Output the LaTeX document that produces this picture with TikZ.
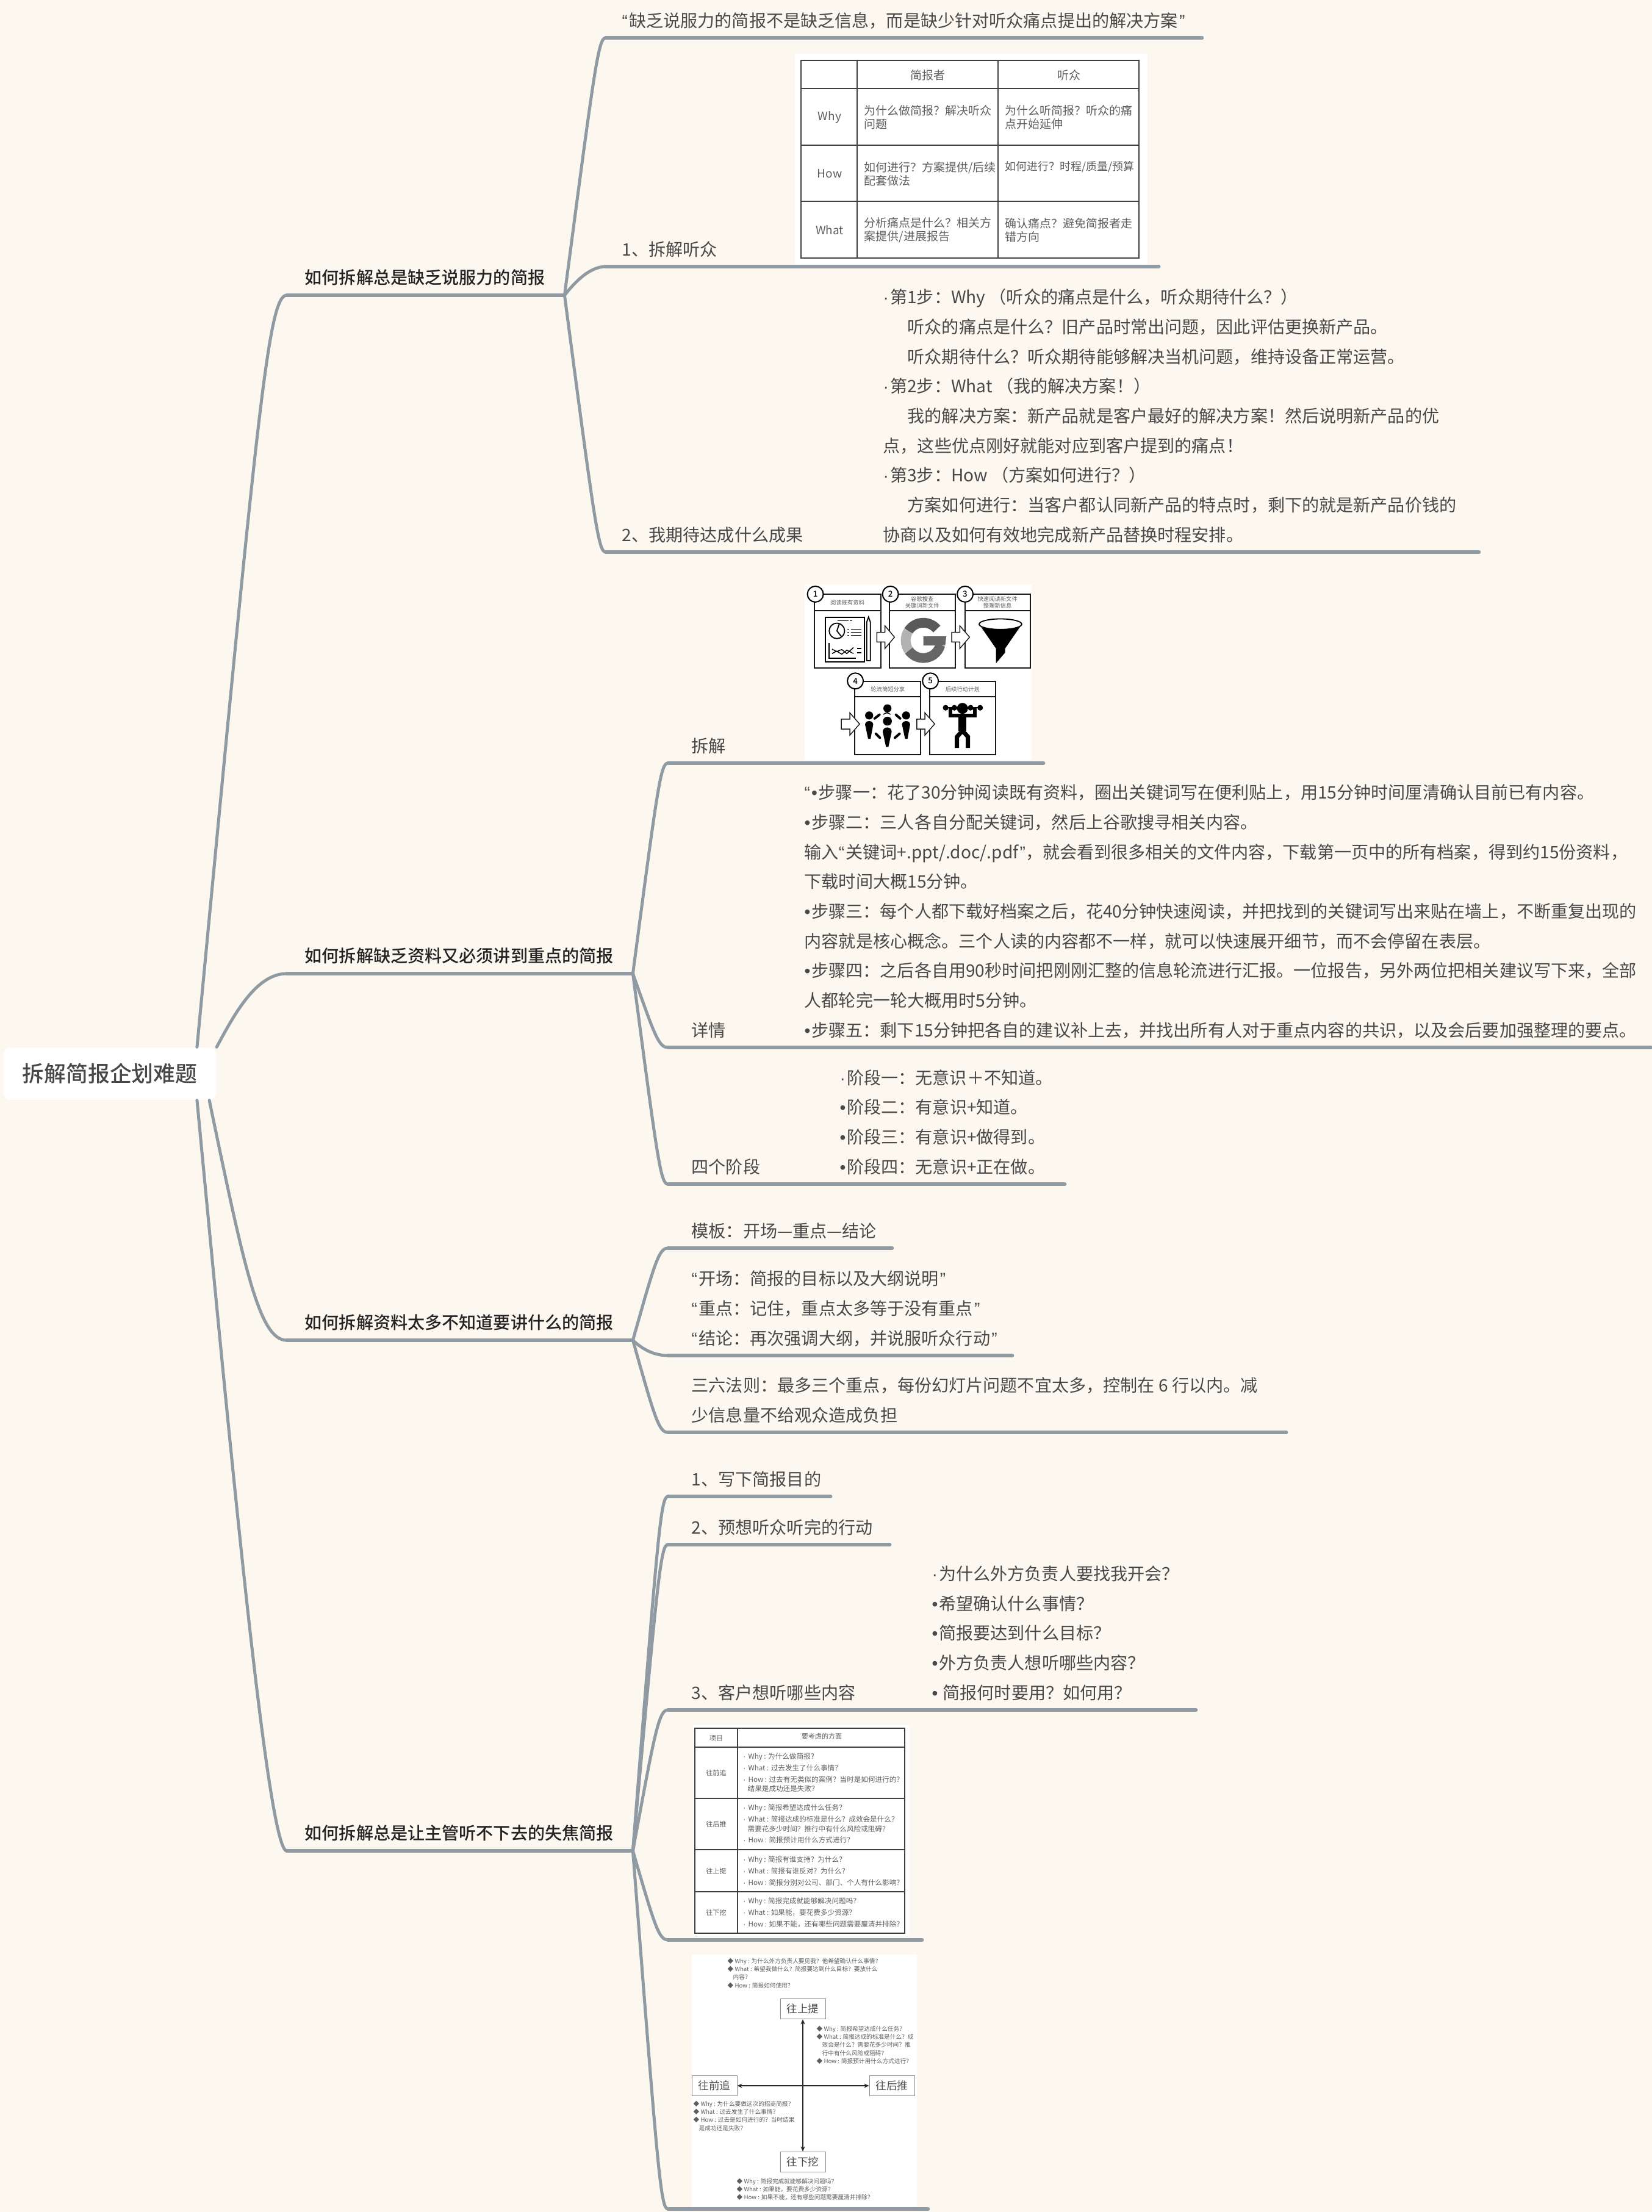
\documentclass[tikz,border=0pt]{standalone}
\usepackage{fontspec}
\setmainfont{Noto Sans CJK SC}[BoldFont={Noto Sans CJK SC Medium}]
\newfontfamily\marksfont{Liberation Sans}
\newcommand\dotb{{\marksfont ·}\kern.6pt}
\newcommand\bul{{\marksfont •}\kern.5pt}
\newcommand\ldq{{\marksfont “}\kern.6pt}
\newcommand\rdq{\kern.6pt{\marksfont ”}}
\usepackage{xcolor}
\definecolor{mapbg}{HTML}{FCF8F0}
\definecolor{mapline}{HTML}{8F9AA3}
\definecolor{mapkw}{HTML}{232323}
\definecolor{maptxt}{HTML}{484848}
\definecolor{picgray}{HTML}{5E5E5E}
\usepackage{tikz}
\usetikzlibrary{arrows.meta,calc}
\tikzset{
  rootnode/.style={fill=white,rounded corners=.12cm,minimum width=3.49cm,minimum height=.86cm,inner sep=0pt,text=maptxt,font=\fontsize{10.2}{12}\selectfont\bfseries},
  mainnode/.style={anchor=south west,inner xsep=.29cm,inner ysep=0pt,text depth=.18cm,align=left,text=mapkw,font=\fontsize{8}{13.85}\selectfont\bfseries},
  subnode/.style={anchor=south west,inner xsep=.38cm,inner ysep=0pt,text depth=.17cm,align=left,text=maptxt,font=\fontsize{8}{13.85}\selectfont},
  txtblock/.style={anchor=south west,inner sep=0pt,text depth=.17cm,align=left,text=maptxt,font=\fontsize{8}{13.85}\selectfont},
  uline/.style={draw=mapline,line width=.06cm,line cap=round},
  link/.style 2 args={draw=mapline,line width=.05cm,line cap=round,to path={.. controls ($(\tikztostart)!#1!($(\tikztotarget)+(-#2,0)$)$) and ($(\tikztotarget)+(-#2,0)$) .. (\tikztotarget)}},
  picbox/.style={fill=white,inner sep=0pt,anchor=north west},
  gridline/.style={draw=black!75,line width=.012cm},
  cella/.style={inner sep=0pt,text=picgray,font=\fontsize{5.4}{6.3}\selectfont},
  cellb/.style={anchor=west,inner sep=0pt,align=left,text=picgray,font=\fontsize{5.4}{6.3}\selectfont},
  cellc/.style={inner sep=0pt,text=picgray,font=\fontsize{3.15}{4}\selectfont},
  celld/.style={anchor=west,inner sep=0pt,align=left,text=picgray,font=\fontsize{3.3}{4.47}\selectfont},
  quadbox/.style={draw=black!45,line width=.01cm,minimum width=.74cm,minimum height=.335cm,inner sep=0pt,text=black!70,font=\fontsize{5}{6}\selectfont},
  quadtxt/.style={anchor=north west,inner sep=0pt,align=left,text=picgray,font=\fontsize{2.75}{3.8}\selectfont},
  quadarrow/.style={{Stealth[length=.08cm,width=.07cm]}-{Stealth[length=.08cm,width=.07cm]},black!85,line width=.022cm},
  panel/.style={draw=black!90,line width=.02cm},
  pantxt/.style={inner sep=0pt,align=center,text=picgray,font=\fontsize{2.65}{3.3}\selectfont},
  badge/.style={circle,draw=black,line width=.02cm,fill=white,minimum size=.26cm,inner sep=0pt,font=\fontsize{3.8}{4}\selectfont\bfseries},
  hollow/.style={draw=black!90,line width=.014cm,fill=white},
}
\begin{document}
\begin{tikzpicture}
\useasboundingbox (0,0) rectangle (27.08,-36.26);
\fill[mapbg] (0,0) rectangle (27.08,-36.26);
\node[rootnode] (root) at (1.80,-17.60) {拆解简报企划难题};

% first branch
\node[mainnode,text width=3.96cm] (brfa) at (4.70,-4.84) {如何拆解总是缺乏说服力的简报};
\node[subnode,inner xsep=.26cm,text width=9.24cm] (quote) at (9.93,-.62) {\ldq 缺乏说服力的简报不是缺乏信息，而是缺少针对听众痛点提出的解决方案\rdq};
\node[picbox,minimum width=5.78cm,minimum height=3.46cm] (tbla) at (13.02,-.87) {};
\node[subnode,inner xsep=.26cm,text width=8.53cm] (audience) at (9.93,-4.37) {1、拆解听众};
\node[subnode,inner xsep=.26cm,text width=13.78cm] (expect) at (9.93,-9.05) {2、我期待达成什么成果};
\node[txtblock] (steps) at (14.47,-9.05) {\dotb 第1步：Why （听众的痛点是什么，听众期待什么？）\\
\hspace*{.4cm}听众的痛点是什么？旧产品时常出问题，因此评估更换新产品。\\
\hspace*{.4cm}听众期待什么？听众期待能够解决当机问题，维持设备正常运营。\\
\dotb 第2步：What （我的解决方案！）\\
\hspace*{.4cm}我的解决方案：新产品就是客户最好的解决方案！然后说明新产品的优\\
点，这些优点刚好就能对应到客户提到的痛点！\\
\dotb 第3步：How （方案如何进行？）\\
\hspace*{.4cm}方案如何进行：当客户都认同新产品的特点时，剩下的就是新产品价钱的\\
协商以及如何有效地完成新产品替换时程安排。};
\draw[link={.85}{.3}] (root.17) to (brfa.south west);
\draw[uline] (brfa.south west) -- (brfa.south east);
\draw[link={.9}{.12}] (brfa.south east) to (quote.south west);
\draw[uline] (quote.south west) -- (quote.south east);
\draw[link={.3}{.3}] (brfa.south east) to (audience.south west);
\draw[uline] (audience.south west) -- (audience.south east);
\draw[link={.9}{.12}] (brfa.south east) to (expect.south west);
\draw[uline] (expect.south west) -- (expect.south east);

% table under audience
\draw[gridline] (13.13,-.99) rectangle (18.67,-4.23);
\draw[gridline] (14.05,-.99) -- (14.05,-4.23);
\draw[gridline] (16.36,-.99) -- (16.36,-4.23);
\draw[gridline] (13.13,-1.45) -- (18.67,-1.45);
\draw[gridline] (13.13,-2.38) -- (18.67,-2.38);
\draw[gridline] (13.13,-3.30) -- (18.67,-3.30);
\node[cella] (ta) at (15.21,-1.23) {简报者};
\node[cella] (tb) at (17.52,-1.23) {听众};
\node[cella] (tc) at (13.60,-1.92) {Why};
\node[cella] (td) at (13.60,-2.85) {How};
\node[cella] (te) at (13.60,-3.77) {What};
\node[cellb] (tf) at (14.16,-1.92) {为什么做简报？解决听众\\问题};
\node[cellb] (tg) at (16.47,-1.92) {为什么听简报？听众的痛\\点开始延伸};
\node[cellb] (th) at (14.16,-2.85) {如何进行？方案提供/后续\\配套做法};
\node[cellb,font=\fontsize{5.1}{6.3}\selectfont] (ti) at (16.47,-2.74) {如何进行？时程/质量/预算};
\node[cellb] (tj) at (14.16,-3.77) {分析痛点是什么？相关方\\案提供/进展报告};
\node[cellb] (tk) at (16.47,-3.77) {确认痛点？避免简报者走\\错方向};

% second branch
\node[mainnode,text width=5.08cm] (brfb) at (4.70,-15.96) {如何拆解缺乏资料又必须讲到重点的简报};
\node[picbox,minimum width=3.72cm,minimum height=2.88cm] (figb) at (13.18,-9.57) {};
\node[subnode,text width=5.38cm] (brk) at (10.95,-12.51) {拆解};
\node[subnode,text width=15.34cm] (detail) at (10.95,-17.17) {详情};
\node[txtblock] (detailt) at (13.18,-17.17) {\ldq\bul 步骤一：花了30分钟阅读既有资料，圈出关键词写在便利贴上，用15分钟时间厘清确认目前已有内容。\\
\bul 步骤二：三人各自分配关键词，然后上谷歌搜寻相关内容。\\
输入\ldq 关键词+.ppt/.doc/.pdf\rdq，就会看到很多相关的文件内容，下载第一页中的所有档案，得到约15份资料，\\
下载时间大概15分钟。\\
\bul 步骤三：每个人都下载好档案之后，花40分钟快速阅读，并把找到的关键词写出来贴在墙上，不断重复出现的\\
内容就是核心概念。三个人读的内容都不一样，就可以快速展开细节，而不会停留在表层。\\
\bul 步骤四：之后各自用90秒时间把刚刚汇整的信息轮流进行汇报。一位报告，另外两位把相关建议写下来，全部\\
人都轮完一轮大概用时5分钟。\\
\bul 步骤五：剩下15分钟把各自的建议补上去，并找出所有人对于重点内容的共识，以及会后要加强整理的要点。};
\node[subnode,text width=5.73cm] (stage) at (10.95,-19.41) {四个阶段};
\node[txtblock] (staget) at (13.76,-19.41) {\dotb 阶段一：无意识＋不知道。\\
\bul 阶段二：有意识+知道。\\
\bul 阶段三：有意识+做得到。\\
\bul 阶段四：无意识+正在做。};
\draw[link={.45}{.5}] (root.north east) to (brfb.south west);
\draw[uline] (brfb.south west) -- (brfb.south east);
\draw[link={.9}{.12}] (brfb.south east) to (brk.south west);
\draw[uline] (brk.south west) -- (brk.south east);
\draw[link={.85}{.15}] (brfb.south east) to (detail.south west);
\draw[uline] (detail.south west) -- (detail.south east);
\draw[link={.9}{.12}] (brfb.south east) to (stage.south west);
\draw[uline] (stage.south west) -- (stage.south east);

% steps picture, coordinates in thirds of a unit
\begin{scope}[shift={(12.9,-9.4)},x=.003333cm,y=-.003333cm]
\draw[panel] (135,102) rectangle (462,465) (135,183) -- (462,183);
\draw[panel] (505,102) rectangle (830,465) (505,183) -- (830,183);
\draw[panel] (877,102) rectangle (1200,465) (877,183) -- (1200,183);
\draw[panel] (333,532) rectangle (658,893) (333,607) -- (658,607);
\draw[panel] (703,532) rectangle (1028,893) (703,607) -- (1028,607);
\node[badge] (ba) at (140,102) {1};
\node[badge] (bb) at (510,102) {2};
\node[badge] (bc) at (878,102) {3};
\node[badge] (bd) at (337,530) {4};
\node[badge] (be) at (707,530) {5};
\node[pantxt] (pa) at (298,143) {阅读既有资料};
\node[pantxt] (pb) at (667,143) {谷歌搜查\\关键词新文件};
\node[pantxt] (pc) at (1038,143) {快速阅读新文件\\整理新信息};
\node[pantxt] (pd) at (497,570) {轮流简短分享};
\node[pantxt] (pe) at (865,570) {后续行动计划};
% arrows between panels
\draw[hollow] (443,290) -- (483,290) -- (483,258) -- (530,314) -- (483,370) -- (483,338) -- (443,338) -- cycle;
\draw[hollow] (812,290) -- (852,290) -- (852,258) -- (900,314) -- (852,370) -- (852,338) -- (812,338) -- cycle;
\draw[hollow] (268,718) -- (310,718) -- (310,687) -- (358,742) -- (310,797) -- (310,767) -- (268,767) -- cycle;
\draw[hollow] (640,718) -- (680,718) -- (680,687) -- (728,742) -- (680,797) -- (680,767) -- (640,767) -- cycle;
% document icon
\draw[black,line width=.02cm] (190,215) rectangle (382,437);
\draw[black,line width=.014cm] (250,233) -- (305,233) (310,233) -- (323,233);
\draw[black,line width=.018cm] (246,283) circle (38) (246,283) -- (258,247) (246,283) -- (270,313);
\draw[black,line width=.014cm] (298,275) -- (308,275) (315,275) -- (368,275) (298,290) -- (308,290) (315,290) -- (368,290) (298,305) -- (308,305) (315,305) -- (368,305);
\draw[black,line width=.018cm] (207,343) -- (207,418) -- (340,418);
\draw[black,line width=.014cm] (222,373) -- (245,385) -- (270,375) -- (295,395) -- (328,365) (222,395) -- (245,383) -- (270,398) -- (295,378) -- (328,395);
\draw[black,line width=.016cm] (345,370) -- (368,370) (345,390) -- (368,390);
\draw[black,line width=.018cm] (393,240) -- (402,215) -- (411,240) -- (411,430) -- (393,430) -- cycle;
% google icon
\draw[black!65,line width=.16cm] (672,330) ++(-40:87) arc[start angle=-40,end angle=-148,radius=87];
\draw[black!30,line width=.16cm] (672,330) ++(-148:87) arc[start angle=-148,end angle=-215,radius=87];
\draw[black!60,line width=.16cm] (672,330) ++(-215:87) arc[start angle=-215,end angle=-345,radius=87];
\fill[black!60] (672,310) -- (785,310) -- (780,355) -- (672,355) -- cycle;
% funnel icon
\fill[black] (947,250) -- (1030,370) -- (1030,443) -- (1075,390) -- (1075,370) -- (1158,250) -- cycle;
\draw[black,line width=.018cm,fill=white] (1052,250) ellipse (105 and 26);
% meeting icon
\fill[black] (405,700) circle (20) (495,665) circle (20) (495,728) circle (22) (587,700) circle (20);
\draw[black,line width=.014cm] (475,695) .. controls (485,685) and (500,685) .. (510,695);
\fill[black] (385,745) .. controls (385,722) and (425,722) .. (425,745) -- (412,815) -- (400,815) -- cycle;
\fill[black] (567,745) .. controls (567,722) and (607,722) .. (607,745) -- (594,815) -- (582,815) -- cycle;
\fill[black] (472,780) .. controls (472,752) and (516,752) .. (516,780) -- (500,855) -- (488,855) -- cycle;
\draw[black,line width=.04cm,line cap=round] (432,715) -- (456,696) (537,696) -- (558,715) (438,790) -- (458,810) (532,810) -- (555,790);
% lifter icon
\fill[black] (865,665) circle (27) (782,662) circle (14) (825,662) circle (14) (905,662) circle (14) (952,662) circle (14);
\draw[black,line width=.02cm] (770,662) -- (965,662);
\draw[black,line width=.055cm] (806,662) -- (806,700) -- (926,700) -- (926,662);
\draw[black,line width=.13cm] (865,700) -- (865,775);
\draw[black,line width=.07cm] (838,860) -- (838,805) -- (865,775) -- (892,805) -- (892,860);
\end{scope}

% third branch
\node[mainnode,text width=5.08cm] (brfc) at (4.70,-21.97) {如何拆解资料太多不知道要讲什么的简报};
\node[subnode,text width=2.90cm] (tmpl) at (10.95,-20.46) {\mbox{模板：开场—重点—结论}};
\node[subnode,text width=4.87cm] (open) at (10.95,-22.22) {};
\node[txtblock] (opent) at (11.33,-22.22) {\ldq 开场：简报的目标以及大纲说明\rdq\\\ldq 重点：记住，重点太多等于没有重点\rdq\\\ldq 结论：再次强调大纲，并说服听众行动\rdq};
\node[subnode,text width=9.36cm] (rule) at (10.95,-23.48) {};
\node[txtblock] (rulet) at (11.33,-23.48) {三六法则：最多三个重点，每份幻灯片问题不宜太多，控制在 6 行以内。减\\少信息量不给观众造成负担};
\draw[link={.7}{.45}] (root.-15) to (brfc.south west);
\draw[uline] (brfc.south west) -- (brfc.south east);
\draw[link={.85}{.15}] (brfc.south east) to (tmpl.south west);
\draw[uline] (tmpl.south west) -- (tmpl.south east);
\draw[link={.3}{.3}] (brfc.south east) to (open.south west);
\draw[uline] (open.south west) -- (open.south east);
\draw[link={.85}{.15}] (brfc.south east) to (rule.south west);
\draw[uline] (rule.south west) -- (rule.south east);

% fourth branch
\node[mainnode,text width=5.08cm] (brfd) at (4.70,-30.34) {如何拆解总是让主管听不下去的失焦简报};
\node[subnode,text width=1.89cm] (purp) at (10.95,-24.53) {\mbox{1、写下简报目的}};
\node[subnode,text width=2.86cm] (act) at (10.95,-25.32) {\mbox{2、预想听众听完的行动}};
\node[subnode,text width=7.88cm] (want) at (10.95,-28.03) {3、客户想听哪些内容};
\node[txtblock] (wantt) at (15.27,-28.03) {\dotb 为什么外方负责人要找我开会？\\
\bul 希望确认什么事情？\\
\bul 简报要达到什么目标？\\
\bul 外方负责人想听哪些内容？\\
\bul\ 简报何时要用？如何用？};
\node[picbox,minimum width=3.55cm,minimum height=3.45cm] (tblb) at (11.35,-28.27) {};
\node[picbox,minimum width=3.69cm,minimum height=4.15cm] (figd) at (11.33,-32.03) {};
\node[subnode,text width=3.39cm] (tblk) at (10.95,-31.80) {};
\node[subnode,text width=3.49cm] (figk) at (10.95,-36.21) {};
\draw[link={.5}{.3}] (root.-17) to (brfd.south west);
\draw[uline] (brfd.south west) -- (brfd.south east);
\draw[link={.9}{.12}] (brfd.south east) to (purp.south west);
\draw[uline] (purp.south west) -- (purp.south east);
\draw[link={.9}{.12}] (brfd.south east) to (act.south west);
\draw[uline] (act.south west) -- (act.south east);
\draw[link={.85}{.15}] (brfd.south east) to (want.south west);
\draw[uline] (want.south west) -- (want.south east);
\draw[link={.85}{.15}] (brfd.south east) to (tblk.south west);
\draw[uline] (tblk.south west) -- (tblk.south east);
\draw[link={.9}{.12}] (brfd.south east) to (figk.south west);
\draw[uline] (figk.south west) -- (figk.south east);

% four directions table
\draw[gridline] (11.39,-28.33) rectangle (14.83,-31.69);
\draw[gridline] (12.09,-28.33) -- (12.09,-31.69);
\draw[gridline] (11.39,-28.64) -- (14.83,-28.64);
\draw[gridline] (11.39,-29.48) -- (14.83,-29.48);
\draw[gridline] (11.39,-30.32) -- (14.83,-30.32);
\draw[gridline] (11.39,-31.01) -- (14.83,-31.01);
\node[cellc] (qa) at (11.74,-28.49) {项目};
\node[cellc] (qb) at (13.47,-28.46) {要考虑的方面};
\node[cellc] (qc) at (11.74,-29.06) {往前追};
\node[cellc] (qd) at (11.74,-29.90) {往后推};
\node[cellc] (qe) at (11.74,-30.67) {往上提};
\node[cellc] (qf) at (11.74,-31.35) {往下挖};
\node[celld] (qg) at (12.18,-29.06) {\dotb\,Why : 为什么做简报？\\[.85pt]
\dotb\,What : 过去发生了什么事情？\\[.85pt]
\dotb\,How : 过去有无类似的案例？当时是如何进行的？\\
\hspace*{.07cm}结果是成功还是失败？};
\node[celld] (qh) at (12.18,-29.90) {\dotb\,Why : 简报希望达成什么任务？\\[.85pt]
\dotb\,What : 简报达成的标准是什么？成效会是什么？\\
\hspace*{.07cm}需要花多少时间？推行中有什么风险或阻碍？\\[.85pt]
\dotb\,How : 简报预计用什么方式进行？};
\node[celld] (qi) at (12.18,-30.67) {\dotb\,Why : 简报有谁支持？为什么？\\[.85pt]
\dotb\,What : 简报有谁反对？为什么？\\[.85pt]
\dotb\,How : 简报分别对公司、部门、个人有什么影响？};
\node[celld] (qj) at (12.18,-31.35) {\dotb\,Why : 简报完成就能够解决问题吗？\\[.85pt]
\dotb\,What : 如果能，要花费多少资源？\\[.85pt]
\dotb\,How : 如果不能，还有哪些问题需要厘清并排除？};

% four directions figure
\node[quadbox] (fup) at (13.16,-32.93) {往上提};
\node[quadbox] (fdown) at (13.16,-35.44) {往下挖};
\node[quadbox] (fleft) at (11.71,-34.19) {往前追};
\node[quadbox] (fright) at (14.62,-34.19) {往后推};
\draw[quadarrow] (fup) -- (fdown);
\draw[quadarrow] (fleft) -- (fright);
\node[quadtxt] (fa) at (11.92,-32.09) {◆ Why : 为什么外方负责人要见我？他希望确认什么事情？\\
◆ What : 希望我做什么？简报要达到什么目标？要放什么\\
\hspace*{.09cm}内容？\\
◆ How : 简报如何使用？};
\node[quadtxt] (fb) at (13.38,-33.20) {◆ Why : 简报希望达成什么任务？\\
◆ What : 简报达成的标准是什么？成\\
\hspace*{.09cm}效会是什么？需要花多少时间？推\\
\hspace*{.09cm}行中有什么风险或阻碍？\\
◆ How : 简报预计用什么方式进行？};
\node[quadtxt] (fc) at (11.36,-34.43) {◆ Why : 为什么要做这次的招商简报？\\
◆ What : 过去发生了什么事情？\\
◆ How : 过去是如何进行的？当时结果\\
\hspace*{.09cm}是成功还是失败？};
\node[quadtxt] (fd) at (12.07,-35.70) {◆ Why : 简报完成就能够解决问题吗？\\
◆ What : 如果能，要花费多少资源？\\
◆ How : 如果不能，还有哪些问题需要厘清并排除？};
\end{tikzpicture}
\end{document}
